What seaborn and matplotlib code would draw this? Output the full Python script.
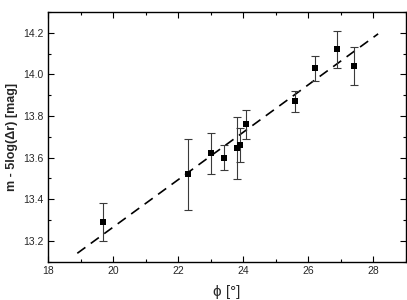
import matplotlib
matplotlib.use("Agg")
import matplotlib.pyplot as plt
import seaborn as sns
import pandas as pd
from matplotlib.ticker import MultipleLocator

phase = [19.7, 22.3, 23.0, 23.4, 23.8, 23.9, 24.1, 25.6, 26.2, 26.9, 27.4]
mag = [13.29, 13.52, 13.62, 13.60, 13.645, 13.66, 13.76, 13.87, 14.03, 14.12, 14.04]
mag_err = [0.09, 0.17, 0.10, 0.06, 0.15, 0.08, 0.07, 0.05, 0.06, 0.09, 0.09]

fit_x = [18.9, 28.15]
fit_y = [13.14, 14.195]

df = pd.DataFrame({"phase": phase, "mag": mag, "err": mag_err})
fit = pd.DataFrame({"x": fit_x, "y": fit_y})

sns.set_style("ticks")
plt.rcParams['font.family'] = ['Liberation Sans', 'DejaVu Sans']

fig = plt.figure(figsize=(4.07, 3.0), dpi=100)
ax = fig.add_axes([0.118, 0.128, 0.879, 0.832])

sns.lineplot(data=fit, x="x", y="y", ax=ax, color="black", lw=1.2,
             linestyle=(0, (6, 4)), legend=False)
ax.errorbar(df["phase"], df["mag"], yerr=df["err"], fmt="none",
            ecolor="#3a3a3a", elinewidth=0.8, capsize=3.0, capthick=0.8, zorder=3)
sns.scatterplot(data=df, x="phase", y="mag", ax=ax, marker="s", s=24,
                color="black", edgecolor="black", linewidth=0, zorder=4)

ax.set_xlim(18, 29)
ax.set_ylim(13.1, 14.3)
ax.xaxis.set_major_locator(MultipleLocator(2))
ax.xaxis.set_minor_locator(MultipleLocator(1))
ax.yaxis.set_major_locator(MultipleLocator(0.2))
ax.yaxis.set_minor_locator(MultipleLocator(0.1))
ax.tick_params(which="both", direction="in", top=True, right=True,
               labelsize=7.5, width=0.8, color="black")
ax.tick_params(which="major", length=4)
ax.tick_params(which="minor", length=2.2)
ax.set_xticks([18, 20, 22, 24, 26, 28])
ax.set_xticklabels(["18", "20", "22", "24", "26", "28"])
ax.set_yticks([13.2, 13.4, 13.6, 13.8, 14.0, 14.2])
ax.set_yticklabels(["13.2", "13.4", "13.6", "13.8", "14.0", "14.2"])
for sp in ax.spines.values():
    sp.set_linewidth(1.0)
    sp.set_color("black")

ax.set_xlabel("ϕ [°]", fontsize=11, labelpad=6)
ax.set_ylabel("m - 5log(Δr) [mag]", fontsize=9, fontweight="bold", labelpad=3.5)

fig.savefig("out.png", dpi=100)
